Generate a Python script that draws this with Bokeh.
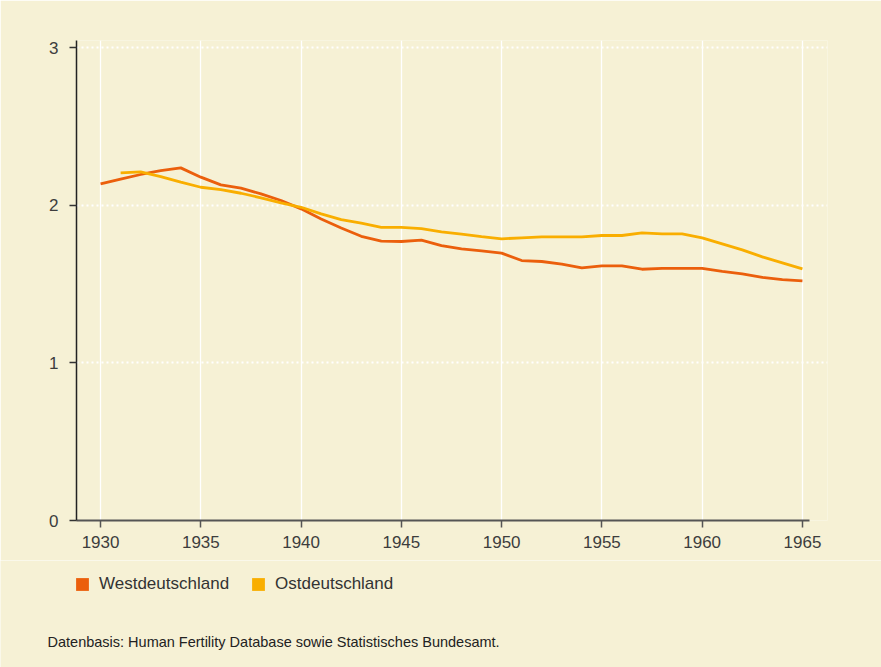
from bokeh.plotting import figure
from bokeh.layouts import column
from bokeh.models import FixedTicker, Legend, LegendItem, Label, Range1d
from bokeh.embed import file_html
from bokeh.resources import INLINE

# ---- data ----
years_west = list(range(1930, 1966))
west = [2.135, 2.165, 2.195, 2.22, 2.237, 2.178, 2.129, 2.108, 2.072, 2.03,
        1.977, 1.913, 1.856, 1.803, 1.772, 1.77, 1.778, 1.744, 1.723, 1.711,
        1.696, 1.649, 1.643, 1.626, 1.603, 1.615, 1.615, 1.594, 1.6, 1.6,
        1.6, 1.581, 1.565, 1.543, 1.528, 1.52]
years_ost = list(range(1931, 1966))
ost = [2.205, 2.211, 2.182, 2.146, 2.114, 2.099, 2.076, 2.047, 2.015,
       1.987, 1.945, 1.909, 1.886, 1.86, 1.86, 1.852, 1.831, 1.816, 1.801,
       1.787, 1.793, 1.799, 1.799, 1.799, 1.808, 1.808, 1.825, 1.818, 1.818,
       1.793, 1.755, 1.717, 1.672, 1.634, 1.596]
x_ticks = [1930, 1935, 1940, 1945, 1950, 1955, 1960, 1965]
y_ticks = [0, 1, 2, 3]
series_labels = ["Westdeutschland", "Ostdeutschland"]
series_colors = ["#EB5F0C", "#F9AE00"]
source_note = "Datenbasis: Human Fertility Database sowie Statistisches Bundesamt."

BG = "#F6F1D5"
FONT = "Liberation Sans"

# ---- main chart ----
p = figure(width=881, height=560, output_backend="svg", toolbar_location=None,
           x_range=Range1d(1928.8, 1966.25), y_range=Range1d(0, 3.045),
           min_border_left=76, min_border_right=54, min_border_top=40,
           min_border_bottom=40)
p.frame_align = False
p.background_fill_color = BG
p.border_fill_color = BG
p.outline_line_color = None

xa = p.xaxis[0]
xa.ticker = FixedTicker(ticks=x_ticks)
xa.bounds = (1928.4, 1965.35)
xa.axis_line_color = "#555555"
xa.axis_line_width = 2
xa.major_tick_line_color = "#555555"
xa.major_tick_line_width = 1.5
xa.major_tick_out = 7
xa.major_tick_in = 0
xa.minor_tick_line_color = None
xa.major_label_text_font = FONT
xa.major_label_text_font_size = "17px"
xa.major_label_text_color = "#3d3d3d"
xa.major_label_standoff = 8

ya = p.yaxis[0]
ya.ticker = FixedTicker(ticks=y_ticks)
ya.bounds = (-0.045, 3.045)
ya.axis_line_color = "#222222"
ya.axis_line_width = 1.5
ya.major_tick_line_color = "#333333"
ya.major_tick_line_width = 1.5
ya.major_tick_out = 7
ya.major_tick_in = 0
ya.minor_tick_line_color = None
ya.major_label_text_font = FONT
ya.major_label_text_font_size = "17px"
ya.major_label_text_color = "#3d3d3d"
ya.major_label_standoff = 11

p.xgrid.ticker = FixedTicker(ticks=x_ticks)
p.xgrid.grid_line_color = "white"
p.xgrid.grid_line_width = 1.3
p.ygrid.ticker = FixedTicker(ticks=y_ticks[1:])
p.ygrid.grid_line_color = "white"
p.ygrid.grid_line_width = 2
p.ygrid.grid_line_dash = "2 3"

p.line(years_west, west, line_color=series_colors[0], line_width=2.8)
p.line(years_ost, ost, line_color=series_colors[1], line_width=2.8)

# ---- legend + source note strip ----
q = figure(width=881, height=107, output_backend="svg", toolbar_location=None,
           x_axis_type=None, y_axis_type=None, x_range=Range1d(0, 1),
           y_range=Range1d(0, 1), min_border=0)
q.frame_align = False
q.background_fill_color = BG
q.border_fill_color = BG
q.outline_line_color = None
q.grid.visible = False

# swatch renderers: zero-size squares (only their legend glyph is visible)
items = []
for lab, col, xs, ys in zip(series_labels, series_colors,
                            [years_west, years_ost], [west, ost]):
    r = q.scatter(xs, ys, marker="square", size=0, fill_color=col, line_color=None)
    items.append(LegendItem(label=lab, renderers=[r]))
legend = Legend(items=items, orientation="horizontal", location=(66, 67),
                glyph_width=32, glyph_height=32, label_standoff=1, spacing=13,
                padding=0, margin=0, border_line_color=None,
                background_fill_alpha=0,
                label_text_font=FONT, label_text_font_size="17px",
                label_text_color="#333333")
q.add_layout(legend, "center")

note = Label(x=47, y=26, x_units="screen", y_units="screen", text=source_note,
             text_font=FONT, text_font_size="14.5px", text_color="#222222",
             text_baseline="alphabetic", text_align="left")
q.add_layout(note)

layout = column(p, q, spacing=0)
open("out.html", "w").write(file_html(layout, INLINE))
